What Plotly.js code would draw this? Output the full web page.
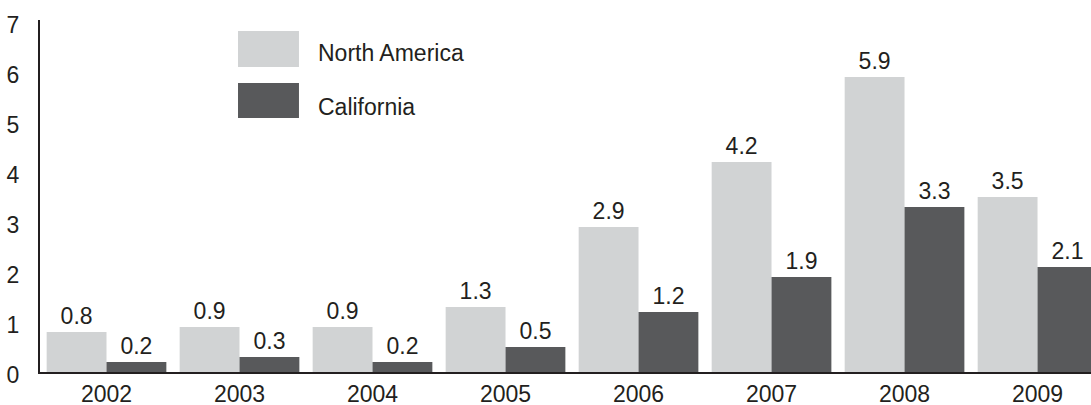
<!DOCTYPE html>
<html>
<head>
<meta charset="utf-8">
<script src="https://cdn.plot.ly/plotly-3.0.1.min.js"></script>
<style>html,body{margin:0;padding:0;background:#fff;}#chart{width:1091px;height:405px;}</style>
</head>
<body>
<div id="chart"></div>
<script>
var years = ['2002','2003','2004','2005','2006','2007','2008','2009'];
var northAmerica = [0.8, 0.9, 0.9, 1.3, 2.9, 4.2, 5.9, 3.5];
var california = [0.2, 0.3, 0.2, 0.5, 1.2, 1.9, 3.3, 2.1];
var yTicks = [0, 1, 2, 3, 4, 5, 6, 7];
var seriesNames = ['North America', 'California'];

var colNA = '#d1d3d4';
var colCA = '#58595b';
var ink = '#231f20';
var fontFam = '"Liberation Sans", Arial, Helvetica, sans-serif';

function fmt(v){ return v.toFixed(1); }

var traces = [
  {type:'bar', name:seriesNames[0], x:years, y:northAmerica, marker:{color:colNA},
   text:northAmerica.map(fmt), textposition:'outside', cliponaxis:false,
   textfont:{family:fontFam, size:23, color:ink}, hoverinfo:'skip'},
  {type:'bar', name:seriesNames[1], x:years, y:california, marker:{color:colCA},
   text:california.map(fmt), textposition:'outside', cliponaxis:false,
   textfont:{family:fontFam, size:23, color:ink}, hoverinfo:'skip'}
];

var layout = {
  width:1091, height:405,
  margin:{l:40, r:0, t:20, b:33, pad:0},
  paper_bgcolor:'#fff', plot_bgcolor:'#fff',
  showlegend:false,
  barmode:'group', bargap:0.1, bargroupgap:0,
  font:{family:fontFam, size:23, color:ink},
  xaxis:{type:'category', range:[-0.5, 7.402], showline:true, linecolor:ink, linewidth:2,
         showgrid:false, zeroline:false, ticks:'', tickfont:{size:23, color:ink}, fixedrange:true},
  yaxis:{range:[0, 7.04], tickvals:yTicks, ticktext:yTicks.map(String), showline:true, linecolor:ink, linewidth:2,
         showgrid:false, zeroline:false, ticks:'', ticklabelstandoff:14, ticklabelshift:3,
         tickfont:{size:23, color:ink}, fixedrange:true},
  shapes:[
    {type:'rect', xref:'paper', yref:'paper', x0:0.1884, x1:0.2464, y0:0.8665, y1:0.96875, fillcolor:colNA, line:{width:0}},
    {type:'rect', xref:'paper', yref:'paper', x0:0.1884, x1:0.2464, y0:0.7216, y1:0.8210, fillcolor:colCA, line:{width:0}}
  ],
  annotations:[
    {xref:'paper', yref:'paper', x:0.2626, y:0.905, xanchor:'left', yanchor:'middle', showarrow:false,
     text:seriesNames[0], font:{family:fontFam, size:23, color:ink}},
    {xref:'paper', yref:'paper', x:0.2626, y:0.754, xanchor:'left', yanchor:'middle', showarrow:false,
     text:seriesNames[1], font:{family:fontFam, size:23, color:ink}}
  ]
};

Plotly.newPlot('chart', traces, layout, {displayModeBar:false, staticPlot:true});
</script>
</body>
</html>
